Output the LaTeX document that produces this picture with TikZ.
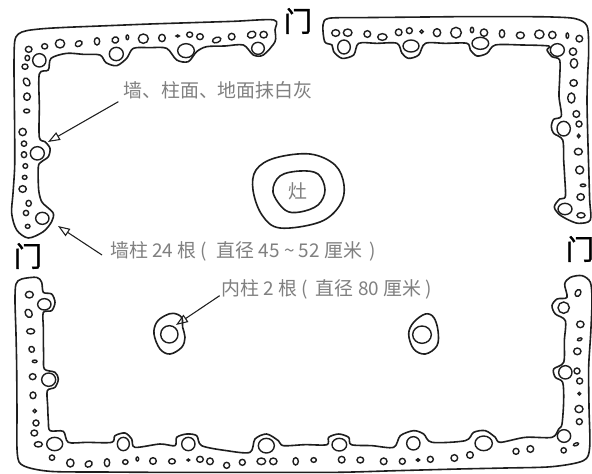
\documentclass[tikz,border=0pt]{standalone}
\usepackage{fontspec}
\newfontfamily\cjk{Noto Sans CJK SC}
\newfontfamily\doorcjk[FakeBold=1.2]{Noto Sans CJK SC}
\usetikzlibrary{arrows.meta}
\definecolor{ink}{HTML}{1E1E1E}
\definecolor{note}{HTML}{808080}
\tikzset{
  wallline/.style={draw=ink,line width=1.2pt,line join=round},
  holeline/.style={draw=ink,line width=1.05pt},
  zoomed/.style={x=0.25pt,y=-0.25pt},
  notetext/.style={text=note,font=\cjk\fontsize{14.2pt}{15pt}\selectfont,inner sep=0pt},
  doortext/.style={text=black,font=\doorcjk\fontsize{21pt}{21pt}\selectfont,inner sep=0pt},
  pointer/.style={draw=ink,line width=0.8pt,-{Triangle[open,length=9pt,width=6.5pt]}}
}
\newcommand{\holes}[1]{\foreach \hx/\hy/\ha/\hb/\hr in {#1}{\draw[holeline,rotate around={\hr:(\hx,\hy)}] (\hx,\hy) ellipse [x radius=\ha,y radius=\hb];}}
\begin{document}
\begin{tikzpicture}[x=0.75pt,y=-0.75pt]
\useasboundingbox[fill=white] (0,0) rectangle (592,474);

% top-left wall
\begin{scope}[zoomed]
\draw[wallline] plot[smooth cycle,tension=0.5] coordinates {(822,60)(700,64)(575,68)(450,72)(325,77)(200,82)(130,86)(80,92)(55,102)(44,125)(42,200)(43,300)(44,400)(44,500)(39,580)(35,640)(50,690)(85,714)(130,695)(155,665)(160,640)(140,620)(125,605)(116,570)(115,500)(125,485)(145,470)(150,445)(135,425)(118,412)(118,320)(118,222)(145,210)(153,175)(200,160)(250,163)(300,165)(318,188)(350,197)(380,175)(400,145)(450,143)(500,145)(530,180)(565,185)(590,155)(620,140)(675,138)(730,135)(760,165)(790,165)(825,125)(825,90)};
\holes{86/148/10/9/0,82/174/7/8/0,118/181/20/20/0,134/139/9/8/0,180/131/14/13/0,236/131/11/8/30,291/124/8/11/0,346/120/10/9/20,382/112/4/7/0,430/116/15/14/0,486/114/10/11/0,533/108/5/3/0,569/104/9/8/0,600/110/10/9/0,650/120/13/8/20,695/110/10/10/0,755/104/13/10/20,791/104/11/10/0,774/145/19/18/0,349/162/21/20/0,558/152/25/21/0,75/200/9/8/0,80/246/9/13/30,81/290/10/11/0,80/333/9/6/0,68/396/11/11/0,72/431/8/8/0,72/464/8/9/0,76/498/7/7/0,74/532/7/6/0,68/567/11/10/0,86/610/8/9/0,78/639/8/8/0,127/655/20/18/0,83/679/7/6/0,112/460/21/20/0}
\end{scope}

% top-right wall
\begin{scope}[shift={(292,0)},zoomed]
\draw[wallline] plot[smooth cycle,tension=0.5] coordinates {(93,75)(110,55)(200,53)(300,52)(400,51)(500,50)(600,50)(700,50)(780,51)(850,56)(885,78)(890,150)(887,225)(885,300)(887,400)(890,500)(893,600)(895,660)(860,670)(830,660)(800,642)(787,620)(803,597)(820,590)(818,530)(815,480)(812,420)(785,400)(778,380)(785,358)(808,348)(801,290)(803,235)(803,180)(780,170)(765,150)(770,138)(690,135)(610,135)(585,160)(555,168)(535,150)(525,130)(460,130)(400,130)(380,165)(350,175)(330,160)(315,130)(255,130)(200,130)(185,165)(150,175)(125,155)(120,135)(98,125)};
\holes{131/99/12/10/0,167/98/13/11/0,226/102/10/10/0,271/111/14/10/0,320/97/10/10/0,352/92/9/9/0,389/95/5/5/0,435/98/11/12/0,492/98/16/16/0,540/90/5/8/0,576/98/11/11/0,630/101/8/12/0,685/106/12/10/0,742/103/14/13/0,781/105/11/11/0,826/107/4/8/0,862/116/10/10/0,156/141/19/21/0,357/138/24/18/0,565/130/25/18/0,796/150/21/19/0,843/155/11/11/0,846/190/11/14/0,845/249/11/10/0,838/294/11/15/0,853/342/10/10/0,861/372/9/9/0,860/408/4/5/0,859/455/12/10/0,863/510/12/12/0,873/556/8/4/0,866/591/11/10/0,819/627/21/17/0,867/646/12/8/0,815/386/20/22/0}
\end{scope}

% bottom wall
\begin{scope}[shift={(0,234)},zoomed]
\draw[wallline] plot[smooth cycle,tension=0.5] coordinates {(48,150)(65,135)(110,130)(125,145)(130,175)(155,180)(165,205)(155,230)(130,235)(130,280)(130,320)(131,365)(133,405)(165,415)(175,435)(165,460)(142,470)(143,515)(145,560)(150,590)(190,592)(205,625)(260,625)(335,625)(345,605)(375,597)(395,615)(405,640)(480,630)(525,635)(530,610)(560,600)(590,605)(605,635)(680,650)(750,655)(765,615)(800,600)(835,620)(850,635)(915,632)(981,632)(986,610)(1016,600)(1046,610)(1054,632)(1116,635)(1181,640)(1201,605)(1241,590)(1271,600)(1296,625)(1396,620)(1421,595)(1456,590)(1486,610)(1501,625)(1576,610)(1656,610)(1676,585)(1686,570)(1691,500)(1688,445)(1666,430)(1661,405)(1691,385)(1693,320)(1696,260)(1666,240)(1656,215)(1671,195)(1701,190)(1694,150)(1711,130)(1746,125)(1771,145)(1776,200)(1772,300)(1766,400)(1767,520)(1769,640)(1750,680)(1656,698)(1516,702)(1376,705)(1190,710)(1006,715)(740,715)(480,715)(310,714)(150,712)(70,695)(52,660)(51,530)(50,400)(48,300)(45,200)};
\holes{88/182/12/10/0,86/238/10/13/30,92/292/12/8/0,95/346/8/9/30,104/382/7/4/0,98/428/10/9/0,99/484/9/10/0,104/531/5/5/0,108/567/9/9/0,103/597/10/9/0,115/631/12/8/0,133/211/20/17/0,146/437/21/20/0,164/630/24/20/0,370/630/18/20/0,565/630/20/20/0,799/635/24/22/0,156/671/8/8/0,211/687/11/12/0,266/690/11/9/30,321/686/8/12/0,376/684/8/7/0,412/675/4/6/0,459/681/10/10/0,516/682/10/8/0,565/678/4/3/0,600/676/10/9/0,630/682/10/10/0,680/694/9/9/0,727/685/9/9/0,784/682/13/10/0,820/682/11/10/0,887/682/8/11/0}
\end{scope}
\begin{scope}[shift={(292,234)},zoomed]
\holes{65/678/8/7/0,149/677/10/10/0,205/678/10/9/0,275/682/10/10/0,331/682/9/9/0,378/678/5/4/0,415/676/9/9/0,487/672/10/10/0,534/663/10/10/0,672/652/9/9/0,715/645/10/10/0,815/649/8/8/0,852/631/8/4/20,816/606/20/19/0,575/628/26/22/0,364/628/20/20/0,142/632/22/19/0,858/177/8/11/-30,815/221/17/17/0,865/271/11/10/0,863/316/7/4/20,856/352/11/10/0,820/415/20/20/0,855/411/9/9/0,863/441/9/9/0,862/479/4/4/0,861/525/12/11/0,862/563/9/9/0}
% right inner column
\draw[wallline] plot[smooth cycle,tension=0.6] coordinates {(350,300)(365,265)(400,240)(425,250)(438,290)(435,335)(400,360)(365,345)};
\holes{390/302/28/26/0}
\end{scope}

% left inner column
\begin{scope}[shift={(0,234)},zoomed]
\draw[wallline] plot[smooth cycle,tension=0.6] coordinates {(462,300)(470,265)(495,245)(520,238)(545,250)(548,280)(555,310)(545,340)(510,360)(480,345)};
\holes{508/301/26/26/0}
\end{scope}

% hearth
\draw[wallline] plot[smooth cycle,tension=0.6] coordinates {(253,190)(256,170)(275,158)(310,154)(335,165)(344,185)(340,205)(320,222)(280,228)(262,215)};
\draw[wallline] plot[smooth cycle,tension=0.6] coordinates {(273,192)(280,176)(300,171)(318,174)(325,190)(318,205)(300,212)(285,210)};
\node[notetext] (zao) at (298,191) {灶};

% doors
\node[doortext] (doortop) at (298,21) {门};
\node[doortext] (doorleft) at (28,256) {门};
\node[doortext] (doorright) at (580,249) {门};

% notes
\node[notetext,anchor=west] (wallnote) at (123,90) {墙、柱面、地面抹白灰};
\node[notetext,anchor=west] (postnote) at (110,251) {墙柱 24 根 (\hspace{4pt} 直径 45 \char"7E{} 52 厘米 \,)};
\node[notetext,anchor=west] (innernote) at (221,289) {内柱 2 根 (\hspace{3pt} 直径 80 厘米 )};
\coordinate (wallpoint) at (48,142);
\coordinate (postpoint) at (58,226);
\coordinate (innerpoint) at (176,325);
\draw[pointer] ([xshift=-3.5pt,yshift=-2pt]wallnote.south west) -- (wallpoint);
\draw[pointer] ([xshift=-6pt,yshift=-3pt]postnote.west) -- (postpoint);
\draw[pointer] ([xshift=-1pt,yshift=-5pt]innernote.west) -- (innerpoint);
\end{tikzpicture}
\end{document}
